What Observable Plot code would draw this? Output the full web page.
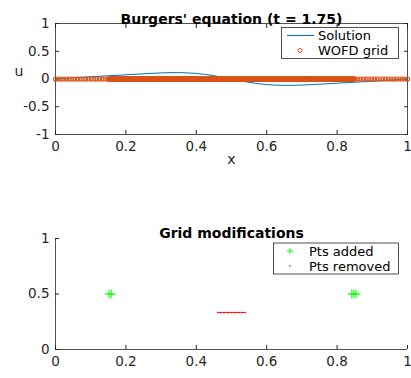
<!DOCTYPE html>
<html>
<head>
<meta charset="utf-8">
<script src="https://cdn.jsdelivr.net/npm/d3@7"></script>
<script src="https://cdn.jsdelivr.net/npm/@observablehq/plot@0.6"></script>
<style>
  body { margin: 0; background: #fff; }
  #chart { width: 411px; height: 378px; }
  #chart svg { display: block; }
</style>
</head>
<body>
<div id="chart"></div>
<script>
// Tick values
const xTicks = [0, 0.2, 0.4, 0.6, 0.8, 1];
const uTicks = [-1, -0.5, 0, 0.5, 1];
const modTicks = [0, 0.5, 1];

// Solution u(x) at t = 1.75
const solX = [0, 0.05, 0.1, 0.15, 0.2, 0.25, 0.3, 0.35, 0.4, 0.45, 0.5,
              0.55, 0.6, 0.65, 0.7, 0.75, 0.8, 0.85, 0.9, 0.95, 1];
const solU = [0, 0.02, 0.04, 0.058, 0.075, 0.094, 0.11, 0.115, 0.1, 0.06, 0,
              -0.06, -0.1, -0.115, -0.11, -0.094, -0.075, -0.058, -0.04, -0.02, 0];

// WOFD grid: coarse dyadic level outside the refined zone, fine level inside it
const coarseStep = 1 / 128;
const fineStep = 1 / 1024;
const fineZone = [0.1523, 0.8477];

// Grid modifications
const addedX = [0.1523, 0.1582, 0.8418, 0.8477, 0.8535];
const addedY = 0.5;
const removedX = [0.4609, 0.4648, 0.4688, 0.4727, 0.4766, 0.4805, 0.4844, 0.4883, 0.4922, 0.4961, 0.5,
                  0.5039, 0.5078, 0.5117, 0.5156, 0.5195, 0.5234, 0.5273, 0.5313, 0.5352, 0.5391];
const removedY = 1 / 3;

const ink = "#262626";
const blue = "#0072BD";
const orange = "#D95319";
const font = "DejaVu Sans";
const fmt = d => String(d);

const solution = solX.map((x, i) => ({x, u: solU[i]}));
const gridX = d3.range(0, 1 + 1e-9, coarseStep)
  .filter(x => x < fineZone[0] || x > fineZone[1])
  .concat(d3.range(fineZone[0], fineZone[1] + 1e-9, fineStep));
const grid = gridX.map(x => ({x, u: 0}));
const added = addedX.map(x => ({x, y: addedY}));
const removed = removedX.map(x => ({x, y: removedY}));

function addLegend(svg, box, rows) {
  const g = d3.select(svg).append("g")
    .attr("font-family", font).attr("font-size", 13).attr("fill", "#000")
    .attr("text-anchor", "start");
  g.append("rect")
    .attr("x", box.x).attr("y", box.y).attr("width", box.w).attr("height", box.h)
    .attr("fill", "white").attr("stroke", ink).attr("stroke-width", 0.8);
  rows.forEach(r => {
    if (r.kind === "line") {
      g.append("line").attr("x1", r.sx - 13).attr("x2", r.sx + 14)
        .attr("y1", r.y).attr("y2", r.y).attr("stroke", r.color).attr("stroke-width", 1);
    } else if (r.kind === "circle") {
      g.append("circle").attr("cx", r.sx).attr("cy", r.y).attr("r", 2)
        .attr("fill", "none").attr("stroke", r.color).attr("stroke-width", 1);
    } else if (r.kind === "plus") {
      g.append("path").attr("d", `M${r.sx - 3},${r.y}h6M${r.sx},${r.y - 3}v6`)
        .attr("stroke", r.color).attr("stroke-width", 1);
    } else if (r.kind === "dot") {
      g.append("circle").attr("cx", r.sx).attr("cy", r.y).attr("r", 0.8).attr("fill", r.color);
    }
    g.append("text").attr("x", r.tx).attr("y", r.y).attr("dy", "0.36em")
      .attr("text-anchor", "start").text(r.label);
  });
}

const style = {fontFamily: font, fontSize: "13.5px", color: ink, background: "white", overflow: "visible"};

const topPlot = Plot.plot({
  width: 411, height: 190,
  marginLeft: 55, marginRight: 4, marginTop: 23, marginBottom: 56,
  style,
  x: {domain: [0, 1]},
  y: {domain: [-1, 1]},
  marks: [
    Plot.frame({stroke: ink, strokeWidth: 0.8}),
    Plot.axisX(xTicks, {anchor: "bottom", tickSize: -4, tickPadding: 11, tickFormat: fmt, label: null, stroke: ink}),
    Plot.axisX(xTicks, {anchor: "top", tickSize: -4, tickFormat: () => "", label: null, stroke: ink}),
    Plot.axisY(uTicks, {anchor: "left", tickSize: -4, tickPadding: 10, tickFormat: fmt, label: null, stroke: ink}),
    Plot.axisY(uTicks, {anchor: "right", tickSize: -4, tickFormat: () => "", label: null, stroke: ink}),
    Plot.line(solution, {x: "x", y: "u", stroke: blue, strokeWidth: 1, curve: "catmull-rom"}),
    Plot.dot(grid, {x: "x", y: "u", r: 2, stroke: orange, strokeWidth: 1.1, fill: "none"}),
    Plot.text(["Burgers' equation (t = 1.75)"], {frameAnchor: "top", dy: -9, fontWeight: "bold", fontSize: 14, fill: "#000"}),
    Plot.text(["x"], {frameAnchor: "bottom", dy: 29, fontSize: 14, fill: ink}),
    Plot.text(["u"], {frameAnchor: "left", dx: -41, dy: -7, fontSize: 14, fill: ink})
  ]
});

const botPlot = Plot.plot({
  width: 411, height: 188,
  marginLeft: 55, marginRight: 4, marginTop: 48, marginBottom: 29,
  style,
  x: {domain: [0, 1]},
  y: {domain: [0, 1]},
  marks: [
    Plot.ruleX([0], {stroke: ink, strokeWidth: 0.8}),
    Plot.ruleY([0], {stroke: ink, strokeWidth: 0.8}),
    Plot.axisX(xTicks, {anchor: "bottom", tickSize: -4, tickPadding: 11, tickFormat: fmt, label: null, stroke: ink}),
    Plot.axisY(modTicks, {anchor: "left", tickSize: -4, tickPadding: 10, tickFormat: fmt, label: null, stroke: ink}),
    Plot.dot(added, {x: "x", y: "y", symbol: "plus", r: 3, stroke: "#00FF00", strokeWidth: 1}),
    Plot.dot(removed, {x: "x", y: "y", r: 0.8, fill: "#FF0000", stroke: null}),
    Plot.text(["Grid modifications"], {frameAnchor: "top", dy: -10, fontWeight: "bold", fontSize: 14, fill: "#000"})
  ]
});

addLegend(topPlot, {x: 281.5, y: 27.5, w: 117, h: 31}, [
  {kind: "line", sx: 300, tx: 318, y: 35.5, color: blue, label: "Solution"},
  {kind: "circle", sx: 300, tx: 318, y: 50.5, color: orange, label: "WOFD grid"}
]);
addLegend(botPlot, {x: 273.5, y: 243 - 190, w: 125, h: 31}, [
  {kind: "plus", sx: 290, tx: 309, y: 251 - 190, color: "#00FF00", label: "Pts added"},
  {kind: "dot", sx: 290, tx: 309, y: 266 - 190, color: "#FF0000", label: "Pts removed"}
]);

const chart = document.getElementById("chart");
chart.appendChild(topPlot);
chart.appendChild(botPlot);
</script>
</body>
</html>
